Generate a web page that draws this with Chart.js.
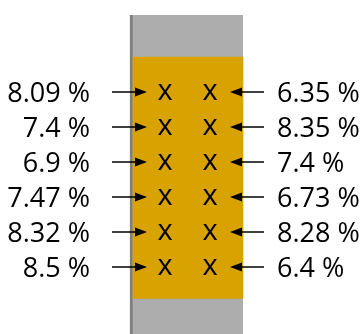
<!DOCTYPE html>
<html>
<head>
<meta charset="utf-8">
<style>
  html, body { margin: 0; padding: 0; background: #fff; }
  canvas { display: block; }
</style>
<script src="https://cdn.jsdelivr.net/npm/chart.js@4/dist/chart.umd.min.js"></script>
</head>
<body>
<canvas id="chart" width="363" height="334"></canvas>
<script>
// rows run top to bottom, 0..5
const rows = [0, 1, 2, 3, 4, 5];
const leftLabels = ["8.09 %", "7.4 %", "6.9 %", "7.47 %", "8.32 %", "8.5 %"];
const rightLabels = ["6.35 %", "8.35 %", "7.4 %", "6.73 %", "8.28 %", "6.4 %"];
const columnRange = [-2.2, 7];   // grey column
const fillRange = [-1, 5.9];     // gold fill inside it

const FONT = "27px 'Open Sans', sans-serif";
const MARK_FONT = "29px 'Open Sans', sans-serif";

// x positions (scale units = px)
const colX = 186.5, fillX = 188;
const markLeftX = 165, markRightX = 210;
const labelLeftX = 90, labelRightX = 277;

const labelsPlugin = {
  id: "labels",
  afterDatasetsDraw(chart) {
    const ctx = chart.ctx;
    const xs = chart.scales.x, ys = chart.scales.y;
    ctx.save();
    ctx.fillStyle = "#000";
    ctx.strokeStyle = "#000";
    ctx.lineWidth = 1.5;

    // x marks from the two scatter datasets
    ctx.font = MARK_FONT;
    [2, 3].forEach(di => {
      chart.getDatasetMeta(di).data.forEach(pt => {
        ctx.textAlign = "center";
        ctx.textBaseline = "alphabetic";
        ctx.fillText("x", pt.x, pt.y + 8);
      });
    });

    ctx.font = FONT;
    rows.forEach((r, i) => {
      const y = ys.getPixelForValue(r);
      ctx.textBaseline = "alphabetic";
      ctx.textAlign = "right";
      ctx.fillText(leftLabels[i], xs.getPixelForValue(labelLeftX), y + 10);
      ctx.textAlign = "left";
      ctx.fillText(rightLabels[i], xs.getPixelForValue(labelRightX), y + 10);

      // left arrow ->
      let a = xs.getPixelForValue(112), t = xs.getPixelForValue(147);
      ctx.beginPath(); ctx.moveTo(a, y); ctx.lineTo(t - 8, y); ctx.stroke();
      ctx.beginPath(); ctx.moveTo(t, y); ctx.lineTo(t - 12, y - 4.5); ctx.lineTo(t - 12, y + 4.5); ctx.closePath(); ctx.fill();
      // right arrow <-
      a = xs.getPixelForValue(264); t = xs.getPixelForValue(230);
      ctx.beginPath(); ctx.moveTo(a, y); ctx.lineTo(t + 8, y); ctx.stroke();
      ctx.beginPath(); ctx.moveTo(t, y); ctx.lineTo(t + 12, y - 4.5); ctx.lineTo(t + 12, y + 4.5); ctx.closePath(); ctx.fill();
    });
    ctx.restore();
  }
};

new Chart(document.getElementById("chart"), {
  data: {
    datasets: [
      {
        type: "bar",
        data: [{ x: colX, y: columnRange }],
        backgroundColor: "#adadad",
        borderColor: "#7f7f7f",
        borderWidth: { left: 3, right: 0, top: 0, bottom: 0 },
        borderSkipped: false,
        barThickness: 113,
        grouped: false,
        order: 2
      },
      {
        type: "bar",
        data: [{ x: fillX, y: fillRange }],
        backgroundColor: "#d8a200",
        borderWidth: 0,
        barThickness: 110,
        grouped: false,
        order: 1
      },
      {
        type: "scatter",
        data: rows.map(r => ({ x: markLeftX, y: r })),
        pointRadius: 0
      },
      {
        type: "scatter",
        data: rows.map(r => ({ x: markRightX, y: r })),
        pointRadius: 0
      }
    ]
  },
  options: {
    responsive: false,
    animation: false,
    layout: { padding: 0 },
    plugins: { legend: { display: false }, tooltip: { enabled: false } },
    scales: {
      x: { type: "linear", min: 0, max: 363, offset: false, display: false },
      y: { type: "linear", min: -92 / 35, max: 242 / 35, reverse: true, offset: false, display: false }
    }
  },
  plugins: [labelsPlugin]
});
</script>
</body>
</html>
